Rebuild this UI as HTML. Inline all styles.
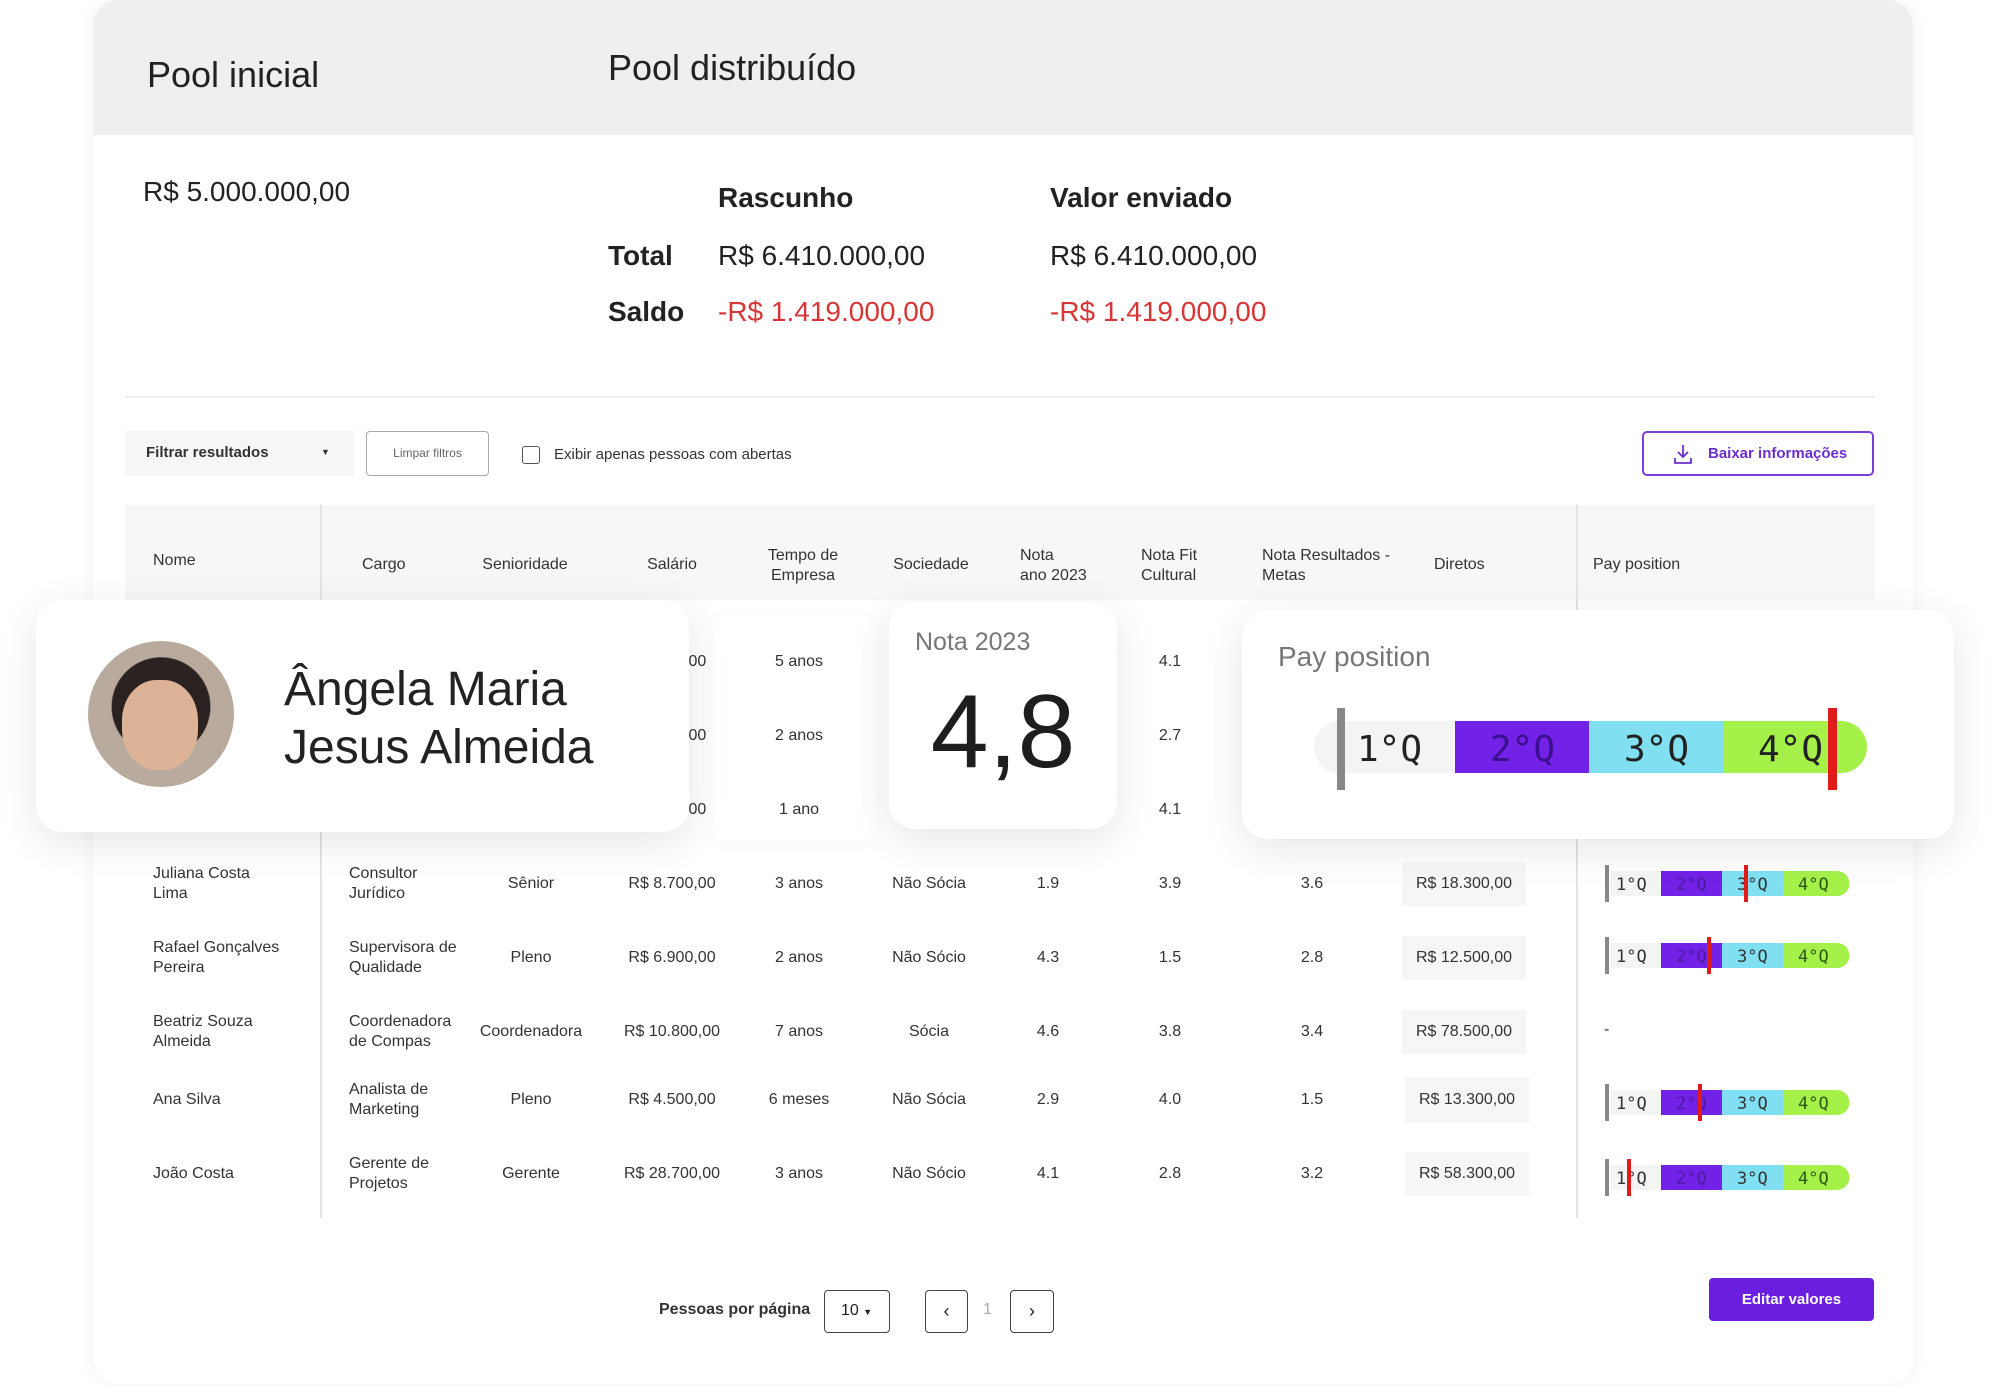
<!DOCTYPE html>
<html><head><meta charset="utf-8">
<style>
*{margin:0;padding:0;box-sizing:border-box}
body{width:2000px;height:1386px;background:#fff;position:relative;overflow:hidden;font-family:"Liberation Sans",sans-serif;color:#222}
.a{position:absolute;white-space:nowrap}
.c{transform:translateX(-50%);text-align:center}
.t{font-size:16px;color:#333;line-height:20px}
.card{position:absolute;background:#fff;border-radius:26px;box-shadow:0 10px 40px rgba(0,0,0,0.10)}
</style></head><body>
<div class="a" style="left:93px;top:0;width:1820px;height:1384px;border-radius:26px;background:#fff;box-shadow:0 0 20px rgba(0,0,0,0.05)"></div>
<div class="a" style="left:93px;top:0;width:1820px;height:135px;border-radius:26px 26px 0 0;background:#efefef"></div>
<div class="a" style="left:147px;top:53px;font-size:36px;line-height:44px;color:#222">Pool inicial</div>
<div class="a" style="left:608px;top:46px;font-size:36px;line-height:44px;color:#222">Pool distribuído</div>
<div class="a" style="left:143px;top:175px;font-size:28px;line-height:34px">R$ 5.000.000,00</div>
<div class="a" style="left:718px;top:181px;font-size:28px;line-height:34px;font-weight:bold">Rascunho</div>
<div class="a" style="left:1050px;top:181px;font-size:28px;line-height:34px;font-weight:bold">Valor enviado</div>
<div class="a" style="left:608px;top:239px;font-size:28px;line-height:34px;font-weight:bold">Total</div>
<div class="a" style="left:718px;top:239px;font-size:28px;line-height:34px">R$ 6.410.000,00</div>
<div class="a" style="left:1050px;top:239px;font-size:28px;line-height:34px">R$ 6.410.000,00</div>
<div class="a" style="left:608px;top:295px;font-size:28px;line-height:34px;font-weight:bold">Saldo</div>
<div class="a" style="left:718px;top:295px;font-size:28px;line-height:34px;color:#d63636">-R$ 1.419.000,00</div>
<div class="a" style="left:1050px;top:295px;font-size:28px;line-height:34px;color:#d63636">-R$ 1.419.000,00</div>
<div class="a" style="left:125px;top:396px;width:1750px;height:2px;background:#ececec"></div>
<div class="a" style="left:125px;top:431px;width:229px;height:45px;background:#f6f6f6"></div>
<div class="a" style="left:146px;top:444px;font-size:15px;font-weight:bold;color:#333">Filtrar resultados</div>
<div class="a" style="left:321px;top:447px;font-size:9px;color:#333">▼</div>
<div class="a" style="left:366px;top:431px;width:123px;height:45px;border:1.5px solid #aaa;border-radius:4px;font-size:12px;color:#666;text-align:center;line-height:42px">Limpar filtros</div>
<div class="a" style="left:522px;top:446px;width:18px;height:18px;border:1.5px solid #555;border-radius:3px"></div>
<div class="a" style="left:554px;top:446px;font-size:15px;color:#333">Exibir apenas pessoas com abertas</div>
<div class="a" style="left:1642px;top:431px;width:232px;height:45px;border:2px solid #7b3fd9;border-radius:5px;color:#6b2fd0;font-size:15px;font-weight:bold;line-height:41px;padding-left:64px">Baixar informações</div>
<svg class="a" style="left:1673px;top:443px" width="20" height="22" viewBox="0 0 20 22"><path d="M10 2v12M5 9l5 5 5-5M2 15v5h16v-5" fill="none" stroke="#6b2fd0" stroke-width="1.8"/></svg>
<div class="a" style="left:125px;top:505px;width:1750px;height:95px;background:#f7f7f7"></div>
<div class="a" style="left:320px;top:505px;width:2px;height:713px;background:#e4e4e4"></div>
<div class="a" style="left:1576px;top:505px;width:2px;height:713px;background:#e4e4e4"></div>
<div class="a t" style="left:153px;top:551px">Nome</div>
<div class="a t" style="left:362px;top:555px">Cargo</div>
<div class="a t c" style="left:525px;top:555px">Senioridade</div>
<div class="a t c" style="left:672px;top:555px">Salário</div>
<div class="a t c" style="left:803px;top:546px">Tempo de<br>Empresa</div>
<div class="a t c" style="left:931px;top:555px">Sociedade</div>
<div class="a t" style="left:1020px;top:546px">Nota<br>ano 2023</div>
<div class="a t" style="left:1141px;top:546px">Nota Fit<br>Cultural</div>
<div class="a t" style="left:1262px;top:546px">Nota Resultados -<br>Metas</div>
<div class="a t" style="left:1434px;top:555px">Diretos</div>
<div class="a t" style="left:1593px;top:555px">Pay position</div>
<div class="a" style="left:711px;top:615px;width:165px;height:225px;background:#fff;box-shadow:0 4px 14px rgba(0,0,0,0.03);border-radius:10px"></div>
<div class="a t" style="left:684px;top:652px">,00</div>
<div class="a t c" style="left:799px;top:652px">5 anos</div>
<div class="a t c" style="left:1170px;top:652px">4.1</div>
<div class="a t" style="left:684px;top:726px">,00</div>
<div class="a t c" style="left:799px;top:726px">2 anos</div>
<div class="a t c" style="left:1170px;top:726px">2.7</div>
<div class="a t" style="left:684px;top:800px">,00</div>
<div class="a t c" style="left:799px;top:800px">1 ano</div>
<div class="a t c" style="left:1170px;top:800px">4.1</div>

<div class="a t" style="left:153px;top:864px">Juliana Costa<br>Lima</div>
<div class="a t" style="left:349px;top:864px">Consultor<br>Jurídico</div>
<div class="a t c" style="left:531px;top:874px">Sênior</div>
<div class="a t c" style="left:672px;top:874px">R$ 8.700,00</div>
<div class="a t c" style="left:799px;top:874px">3 anos</div>
<div class="a t c" style="left:929px;top:874px">Não Sócia</div>
<div class="a t c" style="left:1048px;top:874px">1.9</div>
<div class="a t c" style="left:1170px;top:874px">3.9</div>
<div class="a t c" style="left:1312px;top:874px">3.6</div>
<div class="a t c" style="left:1464px;top:862px;background:#f6f6f6;padding:12px 14px">R$ 18.300,00</div>

<div class="a t" style="left:153px;top:938px">Rafael Gonçalves<br>Pereira</div>
<div class="a t" style="left:349px;top:938px">Supervisora de<br>Qualidade</div>
<div class="a t c" style="left:531px;top:948px">Pleno</div>
<div class="a t c" style="left:672px;top:948px">R$ 6.900,00</div>
<div class="a t c" style="left:799px;top:948px">2 anos</div>
<div class="a t c" style="left:929px;top:948px">Não Sócio</div>
<div class="a t c" style="left:1048px;top:948px">4.3</div>
<div class="a t c" style="left:1170px;top:948px">1.5</div>
<div class="a t c" style="left:1312px;top:948px">2.8</div>
<div class="a t c" style="left:1464px;top:936px;background:#f6f6f6;padding:12px 14px">R$ 12.500,00</div>

<div class="a t" style="left:153px;top:1012px">Beatriz Souza<br>Almeida</div>
<div class="a t" style="left:349px;top:1012px">Coordenadora<br>de Compas</div>
<div class="a t c" style="left:531px;top:1022px">Coordenadora</div>
<div class="a t c" style="left:672px;top:1022px">R$ 10.800,00</div>
<div class="a t c" style="left:799px;top:1022px">7 anos</div>
<div class="a t c" style="left:929px;top:1022px">Sócia</div>
<div class="a t c" style="left:1048px;top:1022px">4.6</div>
<div class="a t c" style="left:1170px;top:1022px">3.8</div>
<div class="a t c" style="left:1312px;top:1022px">3.4</div>
<div class="a t c" style="left:1464px;top:1010px;background:#f6f6f6;padding:12px 14px">R$ 78.500,00</div>
<div class="a t" style="left:1604px;top:1020px">-</div>

<div class="a t" style="left:153px;top:1090px">Ana Silva</div>
<div class="a t" style="left:349px;top:1080px">Analista de<br>Marketing</div>
<div class="a t c" style="left:531px;top:1090px">Pleno</div>
<div class="a t c" style="left:672px;top:1090px">R$ 4.500,00</div>
<div class="a t c" style="left:799px;top:1090px">6 meses</div>
<div class="a t c" style="left:929px;top:1090px">Não Sócia</div>
<div class="a t c" style="left:1048px;top:1090px">2.9</div>
<div class="a t c" style="left:1170px;top:1090px">4.0</div>
<div class="a t c" style="left:1312px;top:1090px">1.5</div>
<div class="a t c" style="left:1467px;top:1078px;background:#f6f6f6;padding:12px 14px">R$ 13.300,00</div>

<div class="a t" style="left:153px;top:1164px">João Costa</div>
<div class="a t" style="left:349px;top:1154px">Gerente de<br>Projetos</div>
<div class="a t c" style="left:531px;top:1164px">Gerente</div>
<div class="a t c" style="left:672px;top:1164px">R$ 28.700,00</div>
<div class="a t c" style="left:799px;top:1164px">3 anos</div>
<div class="a t c" style="left:929px;top:1164px">Não Sócio</div>
<div class="a t c" style="left:1048px;top:1164px">4.1</div>
<div class="a t c" style="left:1170px;top:1164px">2.8</div>
<div class="a t c" style="left:1312px;top:1164px">3.2</div>
<div class="a t c" style="left:1467px;top:1152px;background:#f6f6f6;padding:12px 14px">R$ 58.300,00</div>

<svg class="a" style="left:1600px;top:860px" width="260" height="340" viewBox="0 0 260 340">
<defs><g id="mb">
<rect x="10" y="-12" width="60" height="25" fill="#f4f4f4"/>
<rect x="61" y="-12" width="61" height="25" fill="#7221e6"/>
<rect x="122" y="-12" width="61" height="25" fill="#80e0f2"/>
<path d="M183 -12h54a12.5 12.5 0 0 1 0 25h-54z" fill="#a6f04a"/>
<rect x="5" y="-18" width="4" height="37" fill="#888"/>
<text x="16" y="7" font-family="DejaVu Sans Mono" font-size="17" fill="#333">1°Q</text>
<text x="76" y="7" font-family="DejaVu Sans Mono" font-size="17" fill="#4a1aa0">2°Q</text>
<text x="137" y="7" font-family="DejaVu Sans Mono" font-size="17" fill="#333">3°Q</text>
<text x="198" y="7" font-family="DejaVu Sans Mono" font-size="17" fill="#2a5a10">4°Q</text>
</g></defs>
<use href="#mb" y="23"/><rect x="144" y="5" width="4" height="37" fill="#e01b1b"/>
<use href="#mb" y="95"/><rect x="107" y="77" width="4" height="37" fill="#e01b1b"/>
<use href="#mb" y="242"/><rect x="98" y="224" width="4" height="37" fill="#e01b1b"/>
<use href="#mb" y="317"/><rect x="27" y="299" width="4" height="37" fill="#e01b1b"/>
</svg>

<div class="a" style="left:659px;top:1301px;font-size:16px;font-weight:bold;color:#333">Pessoas por página</div>
<div class="a" style="left:824px;top:1290px;width:66px;height:43px;border:1.5px solid #444;border-radius:4px;font-size:16px;line-height:40px;padding-left:16px">10 <span style="font-size:9px">▼</span></div>
<div class="a" style="left:925px;top:1290px;width:43px;height:43px;border:1.5px solid #444;border-radius:4px;text-align:center;line-height:40px;font-size:18px">‹</div>
<div class="a" style="left:983px;top:1301px;font-size:16px;color:#aaa">1</div>
<div class="a" style="left:1010px;top:1290px;width:44px;height:43px;border:1.5px solid #444;border-radius:4px;text-align:center;line-height:40px;font-size:18px">›</div>
<div class="a" style="left:1709px;top:1278px;width:165px;height:43px;background:#6a1fe0;border-radius:4px;color:#fff;font-size:15px;font-weight:bold;text-align:center;line-height:43px">Editar valores</div>

<div class="card" style="left:36px;top:600px;width:653px;height:232px"></div>
<div class="a" style="left:88px;top:641px;width:146px;height:146px;border-radius:50%;background:radial-gradient(circle at 50% 45%,#e6bfa4 0 22%,#2a2220 23% 45%,#b8aa9c 46%)"></div>
<div class="a" style="left:122px;top:680px;width:76px;height:90px;border-radius:45%;background:#dcb396"></div>
<div class="a" style="left:284px;top:661px;font-size:48px;line-height:58px;color:#222">Ângela Maria<br>Jesus Almeida</div>

<div class="card" style="left:889px;top:602px;width:228px;height:227px"></div>
<div class="a" style="left:915px;top:628px;font-size:25px;color:#777">Nota 2023</div>
<div class="a c" style="left:1003px;top:672px;font-size:104px;line-height:120px;color:#1e1e1e">4,8</div>

<div class="card" style="left:1242px;top:610px;width:712px;height:229px"></div>
<div class="a" style="left:1278px;top:641px;font-size:28px;color:#777">Pay position</div>
<svg class="a" style="left:1300px;top:700px" width="600" height="100" viewBox="0 0 600 100">
<path d="M40 21h115v52h-115a26 26 0 0 1 0-52z" fill="#f4f4f4"/>
<rect x="155" y="21" width="135" height="52" fill="#7221e6"/>
<rect x="289" y="21" width="135" height="52" fill="#80e0f2"/>
<path d="M424 21h117a26 26 0 0 1 0 52h-117z" fill="#a6f04a"/>
<rect x="37" y="8" width="8" height="82" fill="#888"/>
<text x="57" y="61" font-family="DejaVu Sans Mono" font-size="36" fill="#222">1°Q</text>
<text x="190" y="61" font-family="DejaVu Sans Mono" font-size="36" fill="#3a1090">2°Q</text>
<text x="324" y="61" font-family="DejaVu Sans Mono" font-size="36" fill="#222">3°Q</text>
<text x="458" y="61" font-family="DejaVu Sans Mono" font-size="36" fill="#222">4°Q</text>
<rect x="528" y="8" width="9" height="82" fill="#e01b1b"/>
</svg>
</body></html>
